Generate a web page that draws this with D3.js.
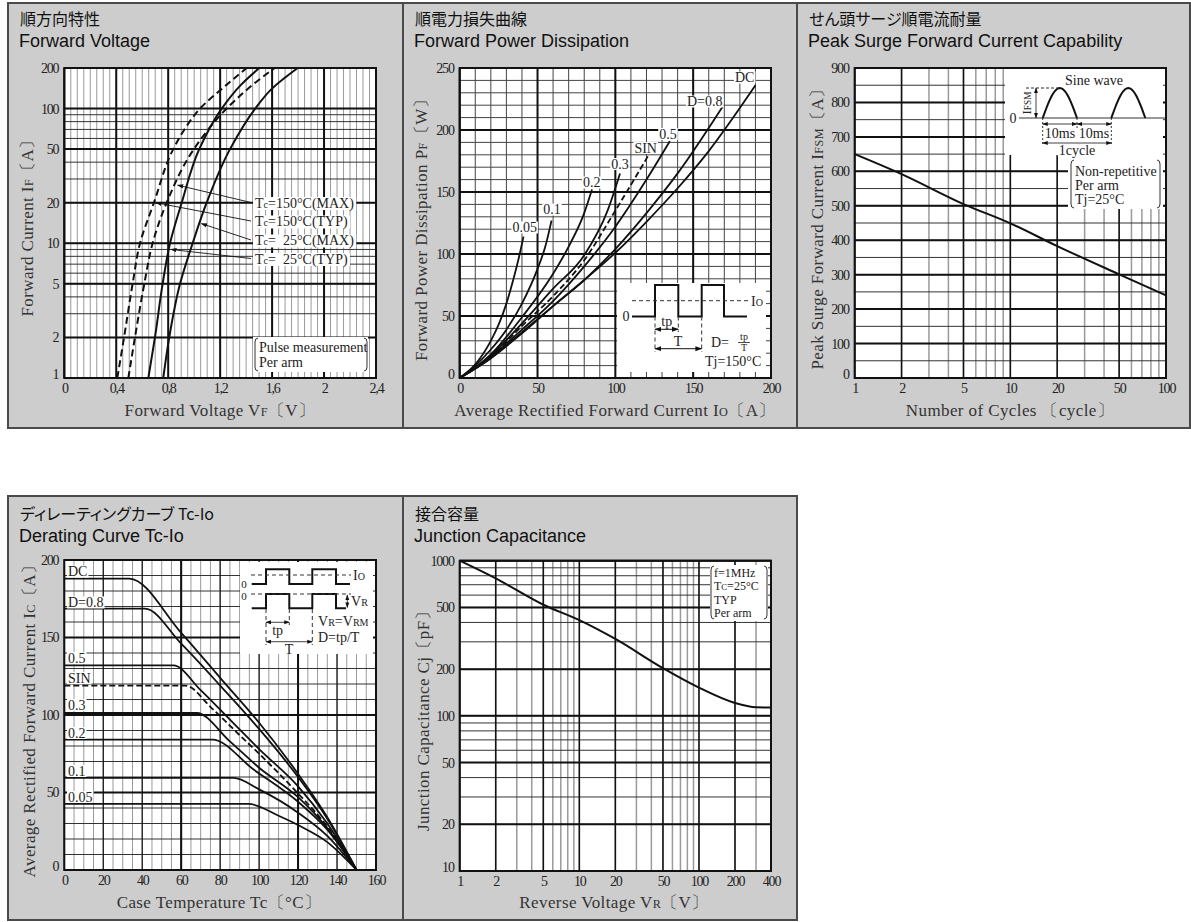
<!DOCTYPE html>
<html><head><meta charset="utf-8">
<script src="https://cdn.jsdelivr.net/npm/d3@7"></script>
<style>
body{margin:0;background:#fff}
svg{display:block}
.jp{font-family:"Noto Sans CJK JP",sans-serif;font-size:16px;fill:#111;font-feature-settings:"palt"}
.en{font-family:"Liberation Sans",Arial,sans-serif;font-size:18px;fill:#111}
.tk{font-family:"Liberation Serif","Times New Roman",serif;font-size:14px;letter-spacing:-1.2px;fill:#222}
.lab{font-family:"Liberation Serif","Times New Roman",serif;font-size:17px;letter-spacing:0.4px;fill:#333}
.note{font-family:"Liberation Serif","Times New Roman",serif;font-size:14px;fill:#222}
.small{font-family:"Liberation Serif","Times New Roman",serif;font-size:13px;fill:#222}
</style></head><body>
<svg id="chart" width="1191" height="922"></svg>
<script>
// ---- Forward Voltage (VF [V], IF [A])
let vfTicks = [0, 0.4, 0.8, 1.2, 1.6, 2, 2.4]
let ifTicks = [1, 2, 5, 10, 20, 50, 100, 200]
let vf150Typ = [[0.408,1],[0.46,2],[0.526,5],[0.583,10],[0.69,20],[0.839,50],[0.925,70],[1.045,100],[1.25,150],[1.404,200]]
let vf150Max = [[0.493,1],[0.544,2],[0.616,5],[0.68,10],[0.788,20],[0.998,50],[1.25,100],[1.45,150],[1.62,200]]
let vf25Typ = [[0.647,1],[0.698,2],[0.757,5],[0.814,10],[0.904,20],[1.039,50],[1.212,100],[1.36,150],[1.501,200]]
let vf25Max = [[0.762,1],[0.808,2],[0.891,5],[0.988,10],[1.096,20],[1.276,50],[1.47,100],[1.597,140],[1.797,200]]
let vfLegend = [['150°C(MAX)'], ['150°C(TYP)'], ['  25°C(MAX)'], ['  25°C(TYP)']]

// ---- Forward Power Dissipation (Io [A], PF [W])
let ioTicks = [0, 50, 100, 150, 200]
let pfTicks = [0, 50, 100, 150, 200, 250]
let pfD005 = [[0,0],[10,11],[20,30],[25,43],[30,60],[35,82],[38,97],[41,114]]
let pfD01 = [[0,0],[10,10],[20,23],[30,39],[40,60],[50,88],[55,106],[59,127]]
let pfD02 = [[0,0],[20,19],[40,49],[60,84],[70,106],[80,133],[85,152]]
let pfD03 = [[0,0],[20,18],[40,44],[60,72],[80,99],[95,135],[103,165]]
let pfSin = [[0,0],[20,17],[40,42],[60,66],[80,95],[100,135],[121,179]]
let pfD05 = [[0,0],[20,17],[40,39],[60,62],[80,90],[100,122],[120,160],[135,191]]
let pfD08 = [[0,0],[20,16],[40,37],[60,58],[80,79],[100,104],[120,133],[140,165],[169,219]]
let pfDC = [[0,0],[20,16],[40,36],[60,58],[80,79],[100,101],[120,126],[140,153],[160,183],[190,236]]
let pfNames = ['0.05', '0.1', '0.2', '0.3', 'SIN', '0.5', 'D=0.8', 'DC']

// ---- Peak Surge Forward Current (cycles, IFSM [A])
let cycTicks = [1, 2, 5, 10, 20, 50, 100]
let ifsmTicks = [0, 100, 200, 300, 400, 500, 600, 700, 800, 900]
let ifsmCurve = [[1,650],[2,592],[5,505],[10,449],[20,383],[50,301],[100,240]]

// ---- Derating curve (Tc [°C], Io [A])
let tcTicks = [0, 20, 40, 60, 80, 100, 120, 140, 160]
let icTicks = [0, 50, 100, 150, 200]
let drDC = [[0,188],[33.4,188],[60,153],[80,124],[100,95],[120,62],[135,34],[150,0]]
let drD08 = [[0,168.6],[41.4,168.6],[60,146],[80,119],[100,91],[120,60],[135,33],[150,0]]
let drD05 = [[0,132],[56,132],[70,116],[85,97],[100,78],[120,54],[135,30],[150,0]]
let drSin = [[0,119],[62,119],[76,104],[90,87],[100,75],[118,52],[135,28],[150,0]]
let drD03 = [[0,101.3],[68,101.3],[85,83],[100,66],[120,47],[135,27],[150,0]]
let drD02 = [[0,84.1],[76,84.1],[97,65],[120,44],[135,26],[150,0]]
let drD01 = [[0,59.4],[86.8,59.4],[100,52],[120,37],[135,22],[150,0]]
let drD005 = [[0,42.6],[94.5,42.6],[110,35],[120,29],[135,18],[150,0]]
let drNames = ['DC', 'D=0.8', '0.5', 'SIN', '0.3', '0.2', '0.1', '0.05']

// ---- Junction Capacitance (VR [V], Cj [pF])
let vrTicks = [1, 2, 5, 10, 20, 50, 100, 200, 400]
let cjTicks = [10, 20, 50, 100, 200, 500, 1000]
let cjCurve = [[1,1000],[2,769],[5,520],[10,414],[20,313],[50,203],[100,152],[200,121],[300,113.5],[400,113]]

let svg = d3.select('#chart')

let defs = svg.append('defs')
defs.append('marker').attr('id', 'arr').attr('viewBox', '0 0 10 10').attr('refX', 9).attr('refY', 5)
    .attr('markerWidth', 7).attr('markerHeight', 7).attr('orient', 'auto-start-reverse')
    .append('path').attr('d', 'M0,1.5 L10,5 L0,8.5 z').attr('fill', '#111')

let panel = (x0, y0, x1, y1, jp, en, dy) => {
    svg.append('rect').attr('x', x0).attr('y', y0).attr('width', x1 - x0).attr('height', y1 - y0)
        .attr('fill', '#cdcdcd').attr('stroke', '#4a4a4a').attr('stroke-width', 2)
    svg.append('text').attr('class', 'jp').attr('x', x0 + 12).attr('y', y0 + 22 + dy).text(jp)
    svg.append('text').attr('class', 'en').attr('x', x0 + 11).attr('y', y0 + 44 + dy).text(en)
}

let vLines = (g, x, y, vals, color, w) => {
    g.selectAll(null).data(vals).enter().append('line')
        .attr('x1', d => x(d)).attr('x2', d => x(d))
        .attr('y1', y.range()[0]).attr('y2', y.range()[1])
        .attr('stroke', color).attr('stroke-width', w)
}
let hLines = (g, x, y, vals, color, w) => {
    g.selectAll(null).data(vals).enter().append('line')
        .attr('y1', d => y(d)).attr('y2', d => y(d))
        .attr('x1', x.range()[0]).attr('x2', x.range()[1])
        .attr('stroke', color).attr('stroke-width', w)
}

let plotBox = (x, y) => {
    let g = svg.append('g')
    g.append('rect').attr('x', x.range()[0]).attr('y', y.range()[1])
        .attr('width', x.range()[1] - x.range()[0]).attr('height', y.range()[0] - y.range()[1])
        .attr('fill', '#fff')
    return g
}
let border = (x, y) => {
    svg.append('rect').attr('x', x.range()[0]).attr('y', y.range()[1])
        .attr('width', x.range()[1] - x.range()[0]).attr('height', y.range()[0] - y.range()[1])
        .attr('fill', 'none').attr('stroke', '#111').attr('stroke-width', 2)
}

let tickLabels = (x, y, xt, yt, fmt) => {
    let xa = d3.axisBottom(x).tickValues(xt).tickSize(0).tickFormat(fmt || (d => d))
    let ga = svg.append('g').attr('transform', `translate(0,${y.range()[0] + 2})`).call(xa)
    ga.select('.domain').remove()
    ga.selectAll('text').attr('class', 'tk').attr('fill', null)
    let ya = d3.axisLeft(y).tickValues(yt).tickSize(0).tickFormat(d => d)
    let gy = svg.append('g').attr('transform', `translate(${x.range()[0] - 3},0)`).call(ya)
    gy.select('.domain').remove()
    gy.selectAll('text').attr('class', 'tk').attr('fill', null)
    gy.selectAll('text').filter(d => y(d) > y.range()[0] - 2).attr('dy', '0.05em')
}

// text with small-size subscript parts: parts = [[text, small], ...]
let rich = (g, x, y, parts, cls, anchor, rot) => {
    let t = g.append('text').attr('class', cls).attr('text-anchor', anchor || 'middle')
    if (rot) t.attr('transform', `translate(${x},${y}) rotate(-90)`)
    else t.attr('x', x).attr('y', y)
    parts.forEach(p => {
        t.append('tspan').style('font-size', p[1] ? '0.72em' : null).text(p[0])
    })
    return t
}

let whiteBg = (g, t, pad) => {
    let b = t.node().getBBox()
    g.insert('rect', () => t.node()).attr('x', b.x - pad).attr('y', b.y + 1.5)
        .attr('width', b.width + pad * 2).attr('height', b.height - 3).attr('fill', '#fff')
}
let whiteText = (g, x, y, str, anchor, pad) => {
    let t = g.append('text').attr('class', 'note').attr('x', x).attr('y', y)
        .attr('text-anchor', anchor || 'start').text(str)
    whiteBg(g, t, pad || 1)
    return t
}

let bracket = (g, x, y1, y2, dir) => {
    let k = 3 * dir
    g.append('path').attr('d', `M${x + k},${y1} Q${x},${y1} ${x},${y1 + 4} L${x},${y2 - 4} Q${x},${y2} ${x + k},${y2}`)
        .attr('fill', 'none').attr('stroke', '#333').attr('stroke-width', 1)
}

// ================= Panel 1: Forward Voltage
panel(8, 3, 403, 428, '順方向特性', 'Forward Voltage', 0)
{
    let x = d3.scaleLinear([0, 2.4], [64.3, 376])
    let y = d3.scaleLog([1, 200], [378, 68])
    let g = plotBox(x, y)
    vLines(g, x, y, d3.range(0, 2.4, 0.05).map(d => +d.toFixed(2)), '#9a9a9a', 1)
    hLines(g, x, y, y.ticks(), '#333', 1)
    vLines(g, x, y, vfTicks, '#111', 2)
    hLines(g, x, y, ifTicks, '#111', 2)

    let line = d3.line().x(d => x(d[0])).y(d => y(d[1])).curve(d3.curveMonotoneY)
    let curves = [[vf150Typ, true], [vf150Max, true], [vf25Typ, false], [vf25Max, false]]
    g.selectAll(null).data(curves).enter().append('path')
        .attr('d', d => line(d[0])).attr('fill', 'none').attr('stroke', '#111').attr('stroke-width', 2)
        .attr('stroke-dasharray', d => d[1] ? '7,4' : null)

    // legend labels with leaders
    let ly = [202.5, 221, 240, 258.5]
    let targets = [[vf150Max, 27], [vf150Typ, 20], [vf25Max, 14], [vf25Typ, 9]]
    let interp = (pts, I) => {
        for (let i = 1; i < pts.length; i++) {
            if (pts[i][1] >= I) {
                let a = pts[i - 1], b = pts[i]
                let t = (Math.log(I) - Math.log(a[1])) / (Math.log(b[1]) - Math.log(a[1]))
                return a[0] + t * (b[0] - a[0])
            }
        }
    }
    vfLegend.forEach((s, i) => {
        let tv = targets[i]
        let tx = x(interp(tv[0], tv[1])) + 2
        g.append('line').attr('x1', 251).attr('y1', ly[i]).attr('x2', tx).attr('y2', y(tv[1]))
            .attr('stroke', '#111').attr('stroke-width', 0.9).attr('marker-end', 'url(#arr)')
        let t = rich(g, 255, ly[i] + 5, [['T', false], ['c', true], ['=' + s[0], false]], 'note', 'start')
        t.style('white-space', 'pre')
        whiteBg(g, t, 2)
    })

    // pulse box
    g.append('rect').attr('x', 253).attr('y', 337).attr('width', 115).attr('height', 35).attr('fill', '#fff')
    bracket(g, 255, 338, 371, 1)
    bracket(g, 367, 338, 371, -1)
    g.append('text').attr('class', 'note').attr('x', 259).attr('y', 352).text('Pulse measurement')
    g.append('text').attr('class', 'note').attr('x', 259).attr('y', 367).text('Per arm')

    border(x, y)
    tickLabels(x, y, vfTicks, ifTicks, d => String(d).replace('.', ','))
    rich(svg, 220, 416, [['Forward Voltage  V', false], ['F', true], ['〔V〕', false]], 'lab')
    rich(svg, 33, 224, [['Forward Current  I', false], ['F', true], ['〔A〕', false]], 'lab', 'middle', true)
}

// ================= Panel 2: Forward Power Dissipation
panel(403, 3, 797, 428, '順電力損失曲線', 'Forward Power Dissipation', 0)
{
    let x = d3.scaleLinear([0, 200], [459.7, 771])
    let y = d3.scaleLinear([0, 250], [378, 68])
    let g = plotBox(x, y)
    vLines(g, x, y, d3.range(0, 201, 10), '#444', 1)
    hLines(g, x, y, d3.range(0, 251, 10), '#444', 1)
    vLines(g, x, y, ioTicks, '#111', 2)
    hLines(g, x, y, pfTicks, '#111', 2)

    let line = d3.line().x(d => x(d[0])).y(d => y(d[1])).curve(d3.curveMonotoneX)
    let curves = [pfD005, pfD01, pfD02, pfD03, pfSin, pfD05, pfD08, pfDC]
    g.selectAll(null).data(curves).enter().append('path')
        .attr('d', d => line(d)).attr('fill', 'none').attr('stroke', '#111').attr('stroke-width', 1.8)
        .attr('stroke-dasharray', (d, i) => pfNames[i] === 'SIN' ? '6,3' : null)

    let lpos = [[524.7, 232], [552, 214], [591.7, 187], [620, 168.5], [645.7, 152.5], [668, 138.5], [704.7, 106], [744.7, 82]]
    pfNames.forEach((s, i) => whiteText(g, lpos[i][0], lpos[i][1], s, 'middle', 1))

    // waveform inset
    g.append('rect').attr('x', 617).attr('y', 283).attr('width', 149).attr('height', 89).attr('fill', '#fff')
    let hi = 285, lo = 316.5
    let wave = `M632,${lo} H655 V${hi} H678.3 V${lo} H701.7 V${hi} H724 V${lo} H747`
    g.append('path').attr('d', wave).attr('fill', 'none').attr('stroke', '#111').attr('stroke-width', 2)
    g.append('line').attr('x1', 632).attr('x2', 748).attr('y1', 300.7).attr('y2', 300.7)
        .attr('stroke', '#333').attr('stroke-dasharray', '4,3')
    ;[[655, 352], [678.3, 332], [701.7, 352]].forEach(d => {
        g.append('line').attr('x1', d[0]).attr('x2', d[0]).attr('y1', lo).attr('y2', d[1])
            .attr('stroke', '#333').attr('stroke-dasharray', '4,3')
    })
    g.append('line').attr('x1', 655).attr('x2', 678.3).attr('y1', 329.3).attr('y2', 329.3)
        .attr('stroke', '#111').attr('marker-start', 'url(#arr)').attr('marker-end', 'url(#arr)')
    g.append('line').attr('x1', 655).attr('x2', 701.7).attr('y1', 348.7).attr('y2', 348.7)
        .attr('stroke', '#111').attr('marker-start', 'url(#arr)').attr('marker-end', 'url(#arr)')
    g.append('text').attr('class', 'note').attr('x', 666.7).attr('y', 326).attr('text-anchor', 'middle').text('tp')
    g.append('text').attr('class', 'note').attr('x', 678).attr('y', 346).attr('text-anchor', 'middle').text('T')
    g.append('text').attr('class', 'note').attr('x', 626).attr('y', 321).attr('text-anchor', 'middle').text('0')
    rich(g, 751, 305.5, [['I', false], ['O', true]], 'note', 'start')
    g.append('text').attr('class', 'note').attr('x', 711).attr('y', 347).text('D=')
    g.append('text').attr('class', 'note').attr('x', 744).attr('y', 340).attr('text-anchor', 'middle').style('font-size', '10px').text('tp')
    g.append('line').attr('x1', 738).attr('x2', 750).attr('y1', 342.5).attr('y2', 342.5).attr('stroke', '#222').attr('stroke-width', 0.8)
    g.append('text').attr('class', 'note').attr('x', 744).attr('y', 351).attr('text-anchor', 'middle').style('font-size', '10px').text('T')
    g.append('text').attr('class', 'note').attr('x', 705).attr('y', 366).text('Tj=150°C')

    border(x, y)
    tickLabels(x, y, ioTicks, pfTicks)
    rich(svg, 615, 416, [['Average Rectified Forward Current  I', false], ['O', true], ['〔A〕', false]], 'lab')
    rich(svg, 427, 226, [['Forward Power Dissipation  P', false], ['F', true], ['〔W〕', false]], 'lab', 'middle', true)
}

// ================= Panel 3: Peak Surge Forward Current Capability
panel(797, 3, 1190, 428, 'せん頭サージ順電流耐量', 'Peak Surge Forward Current Capability', 0)
{
    let x = d3.scaleLog([1, 100], [854.7, 1166])
    let y = d3.scaleLinear([0, 900], [378, 68])
    let g = plotBox(x, y)
    vLines(g, x, y, x.ticks(), '#9a9a9a', 1.5)
    hLines(g, x, y, d3.range(0, 901, 50), '#333', 1)
    vLines(g, x, y, cycTicks, '#111', 1.5)
    hLines(g, x, y, ifsmTicks, '#111', 2)

    let line = d3.line().x(d => x(d[0])).y(d => y(d[1])).curve(d3.curveMonotoneX)
    g.append('path').attr('d', line(ifsmCurve)).attr('fill', 'none').attr('stroke', '#111').attr('stroke-width', 2)

    // sine wave inset
    g.append('rect').attr('x', 1005).attr('y', 68).attr('width', 158).attr('height', 87).attr('fill', '#fff')
    g.append('rect').attr('x', 1068).attr('y', 155).attr('width', 95).attr('height', 54).attr('fill', '#fff')
    let base = 118, peak = 88
    let hump = (a, b) => {
        let pts = d3.range(0, 1.001, 0.05).map(t => [a + t * (b - a), base - Math.sin(Math.PI * t) * (base - peak)])
        return d3.line()(pts)
    }
    g.append('line').attr('x1', 1019).attr('x2', 1165).attr('y1', base).attr('y2', base).attr('stroke', '#333')
    g.append('path').attr('d', hump(1042.7, 1077)).attr('fill', 'none').attr('stroke', '#111').attr('stroke-width', 2)
    g.append('path').attr('d', hump(1111.3, 1145.3)).attr('fill', 'none').attr('stroke', '#111').attr('stroke-width', 2)
    g.append('line').attr('x1', 1026).attr('x2', 1060).attr('y1', peak).attr('y2', peak)
        .attr('stroke', '#333').attr('stroke-dasharray', '3,2')
    g.append('line').attr('x1', 1036).attr('x2', 1036).attr('y1', peak).attr('y2', base)
        .attr('stroke', '#111').attr('stroke-width', 0.8).attr('marker-start', 'url(#arr)').attr('marker-end', 'url(#arr)')
    rich(g, 1031, 103, [['I', false], ['FSM', true]], 'small', 'middle', true)
    g.append('text').attr('class', 'note').attr('x', 1013).attr('y', 122.5).attr('text-anchor', 'middle').text('0')
    g.append('text').attr('class', 'note').attr('x', 1094).attr('y', 85).attr('text-anchor', 'middle').text('Sine wave')
    ;[1042.7, 1077, 1111.3].forEach((d, i) => {
        g.append('line').attr('x1', d).attr('x2', d).attr('y1', base).attr('y2', i === 1 ? 128 : 146)
            .attr('stroke', '#333').attr('stroke-dasharray', '2,2')
    })
    g.append('line').attr('x1', 1042.7).attr('x2', 1077).attr('y1', 124).attr('y2', 124)
        .attr('stroke', '#111').attr('stroke-width', 0.8).attr('marker-start', 'url(#arr)').attr('marker-end', 'url(#arr)')
    g.append('line').attr('x1', 1077).attr('x2', 1111.3).attr('y1', 124).attr('y2', 124)
        .attr('stroke', '#111').attr('stroke-width', 0.8).attr('marker-start', 'url(#arr)').attr('marker-end', 'url(#arr)')
    g.append('line').attr('x1', 1042.7).attr('x2', 1111.3).attr('y1', 143).attr('y2', 143)
        .attr('stroke', '#111').attr('stroke-width', 0.8).attr('marker-start', 'url(#arr)').attr('marker-end', 'url(#arr)')
    whiteText(g, 1060, 138, '10ms', 'middle', 0)
    whiteText(g, 1094, 138, '10ms', 'middle', 0)
    whiteText(g, 1077, 155, '1cycle', 'middle', 0)
    bracket(g, 1071, 160, 208, 1)
    bracket(g, 1160, 160, 208, -1)
    g.append('text').attr('class', 'note').attr('x', 1075).attr('y', 176).text('Non-repetitive')
    g.append('text').attr('class', 'note').attr('x', 1075).attr('y', 190).text('Per arm')
    g.append('text').attr('class', 'note').attr('x', 1075).attr('y', 204).text('Tj=25°C')

    border(x, y)
    tickLabels(x, y, cycTicks, ifsmTicks)
    rich(svg, 1010, 416, [['Number of Cycles 〔cycle〕', false]], 'lab')
    rich(svg, 823, 225, [['Peak Surge Forward Current  I', false], ['FSM', true], ['〔A〕', false]], 'lab', 'middle', true)
}

// ================= Panel 4: Derating Curve
panel(8, 496, 403, 920, 'ディレーティングカーブ Tc-Io', 'Derating Curve Tc-Io', 2)
{
    let x = d3.scaleLinear([0, 160], [64.3, 376])
    let y = d3.scaleLinear([0, 200], [870, 560])
    let g = plotBox(x, y)
    vLines(g, x, y, d3.range(0, 161, 5), '#9a9a9a', 1)
    hLines(g, x, y, d3.range(0, 201, 10), '#333', 1)
    vLines(g, x, y, tcTicks, '#111', 1.2)
    vLines(g, x, y, [60, 120], '#111', 2)
    hLines(g, x, y, icTicks, '#111', 2)

    let line = d3.line().x(d => x(d[0])).y(d => y(d[1])).curve(d3.curveMonotoneX)
    let curves = [drDC, drD08, drD05, drSin, drD03, drD02, drD01, drD005]
    g.selectAll(null).data(curves).enter().append('path')
        .attr('d', d => line(d)).attr('fill', 'none').attr('stroke', '#111').attr('stroke-width', 1.8)
        .attr('stroke-dasharray', (d, i) => drNames[i] === 'SIN' ? '6,3' : null)

    let ly = [576, 607, 662.5, 682.5, 709.5, 737.5, 775.5, 801.5]
    drNames.forEach((s, i) => whiteText(g, 68, ly[i], s, 'start', 1))

    // waveform inset
    g.append('rect').attr('x', 240).attr('y', 562).attr('width', 133).attr('height', 92).attr('fill', '#fff')
    let w1 = `M251.7,584 H266 V569.3 H289.3 V584 H312.3 V569.3 H336 V584 H350`
    let w2 = `M251.7,608.3 H266 V594 H289.3 V608.3 H312.3 V594 H336 V608.3 H346`
    g.append('path').attr('d', w1).attr('fill', 'none').attr('stroke', '#111').attr('stroke-width', 2)
    g.append('path').attr('d', w2).attr('fill', 'none').attr('stroke', '#111').attr('stroke-width', 2)
    g.append('line').attr('x1', 251).attr('x2', 351).attr('y1', 575).attr('y2', 575)
        .attr('stroke', '#333').attr('stroke-dasharray', '4,3')
    g.append('line').attr('x1', 251).attr('x2', 351).attr('y1', 594).attr('y2', 594)
        .attr('stroke', '#333').attr('stroke-dasharray', '4,3')
    g.append('line').attr('x1', 347.3).attr('x2', 347.3).attr('y1', 595).attr('y2', 607.5)
        .attr('stroke', '#111').attr('stroke-width', 0.8).attr('marker-start', 'url(#arr)').attr('marker-end', 'url(#arr)')
    ;[[266, 645], [289.3, 625], [312.3, 645]].forEach(d => {
        g.append('line').attr('x1', d[0]).attr('x2', d[0]).attr('y1', 609).attr('y2', d[1])
            .attr('stroke', '#333').attr('stroke-dasharray', '4,3')
    })
    g.append('line').attr('x1', 266).attr('x2', 289.3).attr('y1', 622.3).attr('y2', 622.3)
        .attr('stroke', '#111').attr('stroke-width', 0.8).attr('marker-start', 'url(#arr)').attr('marker-end', 'url(#arr)')
    g.append('line').attr('x1', 266).attr('x2', 312.3).attr('y1', 641.7).attr('y2', 641.7)
        .attr('stroke', '#111').attr('stroke-width', 0.8).attr('marker-start', 'url(#arr)').attr('marker-end', 'url(#arr)')
    g.append('text').attr('class', 'small').attr('x', 244).attr('y', 587.5).attr('text-anchor', 'middle').style('font-size', '11px').text('0')
    g.append('text').attr('class', 'small').attr('x', 244).attr('y', 599.5).attr('text-anchor', 'middle').style('font-size', '11px').text('0')
    rich(g, 353, 580, [['I', false], ['O', true]], 'note', 'start')
    rich(g, 351, 606, [['V', false], ['R', true]], 'note', 'start')
    g.append('text').attr('class', 'note').attr('x', 277.6).attr('y', 635).attr('text-anchor', 'middle').text('tp')
    g.append('text').attr('class', 'note').attr('x', 289).attr('y', 653.5).attr('text-anchor', 'middle').text('T')
    rich(g, 318, 626, [['V', false], ['R', true], ['=V', false], ['RM', true]], 'note', 'start')
    g.append('text').attr('class', 'note').attr('x', 318).attr('y', 641.5).text('D=tp/T')

    border(x, y)
    tickLabels(x, y, tcTicks, icTicks)
    rich(svg, 219, 908, [['Case Temperature  Tc〔°C〕', false]], 'lab')
    rich(svg, 35, 717, [['Average Rectified Forward Current  I', false], ['C', true], ['〔A〕', false]], 'lab', 'middle', true)
}

// ================= Panel 5: Junction Capacitance
panel(403, 496, 797, 920, '接合容量', 'Junction Capacitance', 2)
{
    let x = d3.scaleLog([1, 400], [459.7, 771])
    let y = d3.scaleLog([10, 1000], [871, 560.7])
    let g = plotBox(x, y)
    vLines(g, x, y, x.ticks(), '#9a9a9a', 1.5)
    hLines(g, x, y, y.ticks(), '#333', 1)
    vLines(g, x, y, vrTicks, '#111', 1.5)
    hLines(g, x, y, cjTicks, '#111', 2)

    let line = d3.line().x(d => x(d[0])).y(d => y(d[1])).curve(d3.curveMonotoneX)
    g.append('path').attr('d', line(cjCurve)).attr('fill', 'none').attr('stroke', '#111').attr('stroke-width', 2)

    g.append('rect').attr('x', 710).attr('y', 565).attr('width', 58).attr('height', 56).attr('fill', '#fff')
    bracket(g, 711, 566, 619, 1)
    bracket(g, 767, 566, 619, -1)
    g.append('text').attr('class', 'small').style('font-size', '12px').attr('x', 714).attr('y', 576.5).text('f=1MHz')
    rich(g, 714, 590, [['T', false], ['C', true], ['=25°C', false]], 'small', 'start').style('font-size', '12px')
    g.append('text').attr('class', 'small').style('font-size', '12px').attr('x', 714).attr('y', 603.5).text('TYP')
    g.append('text').attr('class', 'small').style('font-size', '12px').attr('x', 714).attr('y', 617).text('Per arm')

    border(x, y)
    tickLabels(x, y, vrTicks, cjTicks)
    rich(svg, 614, 908, [['Reverse Voltage  V', false], ['R', true], ['〔V〕', false]], 'lab')
    rich(svg, 429, 717, [['Junction Capacitance  Cj〔pF〕', false]], 'lab', 'middle', true)
}
</script></body></html>
